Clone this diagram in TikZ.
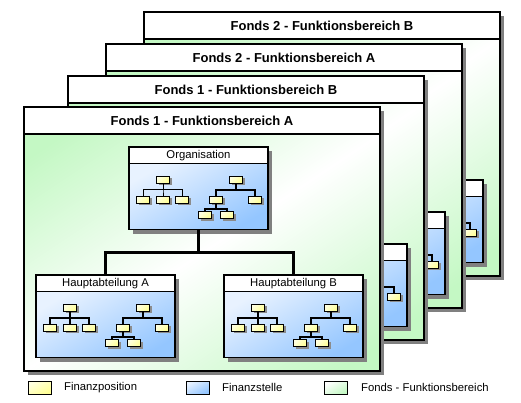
\documentclass[tikz,border=0pt]{standalone}
\usepackage{fontspec}
\setmainfont{Liberation Sans}
\usetikzlibrary{positioning,shadows}

\definecolor{fondsgreen}{RGB}{196,248,196}
\definecolor{stelleblue}{RGB}{148,198,255}
\definecolor{stellelight}{RGB}{232,242,255}
\definecolor{posyellow}{RGB}{255,255,150}
\definecolor{poslight}{RGB}{255,255,226}

\tikzset{
  hardshadow/.style={drop shadow={shadow xshift=4pt, shadow yshift=-4pt, fill=black!50, opacity=1}},
  fondstitle/.style={draw, line width=1.2pt, fill=white, minimum width=356pt, minimum height=27pt, inner sep=0pt, outer sep=0pt, font=\fontsize{13}{15}\selectfont\bfseries, hardshadow},
  % green - white - green, white along the diagonal from lower left to upper right
  fondsbody/.style={draw, line width=1.2pt, fill=fondsgreen, minimum width=356pt, minimum height=237pt, inner sep=0pt, outer sep=0pt, hardshadow,
    path picture={
      \begin{scope}[transform canvas={rotate around={33.7:(path picture bounding box.center)}}]
      \shade[top color=fondsgreen, bottom color=fondsgreen, middle color=white] (path picture bounding box.center) ++(-260,-175) rectangle ++(520,350);
      \end{scope}
    }},
  stellehead/.style={draw, line width=1.2pt, fill=white, minimum width=139pt, minimum height=16.5pt, inner sep=0pt, outer sep=0pt, font=\fontsize{11.3}{12}\selectfont, hardshadow},
  stellebody/.style={draw, line width=1.2pt, minimum width=139pt, minimum height=66pt, inner sep=0pt, outer sep=0pt, top color=stellelight, bottom color=stelleblue, shading angle=30, hardshadow},
  posbox/.style={draw, line width=0.8pt, minimum width=13pt, minimum height=7pt, inner sep=0pt, top color=poslight, bottom color=posyellow, shading angle=45, drop shadow={shadow xshift=2pt, shadow yshift=-2pt, fill=black!45, opacity=1}},
  legendbox/.style={draw, line width=1pt, minimum width=23pt, minimum height=13pt, inner sep=0pt},
  legendtext/.style={font=\fontsize{11.3}{12}\selectfont, inner sep=0pt, anchor=west},
  chartline/.style={line width=1.6pt},
  leftline/.style={chartline},
  link/.style={line width=3pt},
  pics/minichart/.style={code={
    \node[posbox] (-l) at (34,16) {};
    \node[posbox] (-l1) at (14,36) {};
    \node[posbox] (-l2) at (34,36) {};
    \node[posbox] (-l3) at (53,36) {};
    \node[posbox] (-r) at (107,16) {};
    \node[posbox] (-r1) at (87,36) {};
    \node[posbox] (-r2) at (126,36) {};
    \node[posbox] (-r11) at (76,51.5) {};
    \node[posbox] (-r12) at (98,51.5) {};
    \foreach \c in {l1,l2,l3} \draw[leftline] (-l.south) -- ++(0,6.5) -| (-\c.north);
    \foreach \c in {r1,r2} \draw[chartline] (-r.south) -- ++(0,6.5) -| (-\c.north);
    \foreach \c in {r11,r12} \draw[chartline] (-r1.south) -- ++(0,5.5) -| (-\c.north);
  }}
}

\begin{document}
\begin{tikzpicture}[x=1pt,y=-1pt]
\useasboundingbox (0,0) rectangle (521,402);

% fonds frames, back to front (only the front one shows its box labels)
\foreach \i/\fx/\fy/\ftitle in {4/144/12/{Fonds 2 - Funktionsbereich B},3/106/44/{Fonds 2 - Funktionsbereich A},2/68/76/{Fonds 1 - Funktionsbereich B},1/24/107/{Fonds 1 - Funktionsbereich A}}{
\begin{scope}[shift={(\fx,\fy)}]
\node[fondstitle, anchor=north west] (title\i) at (0,0) {\ftitle};
\node[fondsbody, below=0pt of title\i] (fonds\i) {};
\node[stellehead] (orghead\i) at (174.5,48.25) {\ifnum\i=1 Organisation\fi};
\node[stellebody, below=0pt of orghead\i] (org\i) {};
\node[stellehead] (hahead\i) at (81.5,176.25) {\ifnum\i=1 Hauptabteilung A\fi};
\node[stellebody, below=0pt of hahead\i] (ha\i) {};
\node[stellehead] (hbhead\i) at (269.5,176.25) {\ifnum\i=1 Hauptabteilung B\fi};
\node[stellebody, below=0pt of hbhead\i] (hb\i) {};
\draw[link] (org\i.south) -- ++(0,23) -| (hahead\i.north);
\draw[link] (org\i.south) -- ++(0,23) -| (hbhead\i.north);
\pic[leftline/.style={line width=0.9pt}] (orgchart\i) at (org\i.north west) {minichart};
\pic (hachart\i) at (ha\i.north west) {minichart};
\pic (hbchart\i) at (hb\i.north west) {minichart};
\end{scope}
}

% legend
\node[legendbox, top color=poslight, bottom color=posyellow, shading angle=30] (legpos) at (39.5,387.5) {};
\node[legendtext] (legpostext) at (64,387.5) {Finanzposition};
\node[legendbox, top color=stellelight, bottom color=stelleblue, shading angle=30] (legstelle) at (197.5,387.5) {};
\node[legendtext] (legstelletext) at (222,387.5) {Finanzstelle};
\node[legendbox, top color=white, bottom color=fondsgreen, shading angle=30] (legfonds) at (336,387.5) {};
\node[legendtext] (legfondstext) at (361,387.5) {Fonds - Funktionsbereich};
\end{tikzpicture}
\end{document}
